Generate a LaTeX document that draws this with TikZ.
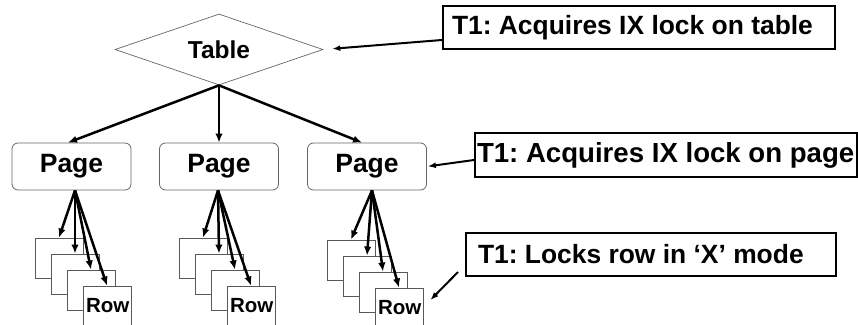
\documentclass[tikz,border=0pt]{standalone}
\usepackage{fontspec}
\setmainfont{Liberation Sans}
\usetikzlibrary{shapes.geometric,arrows.meta}
\frenchspacing
\begin{document}
\begin{tikzpicture}[x=1pt,y=-1pt,
  big/.style={font=\bfseries\fontsize{26.4}{30}\selectfont},
  diam/.style={diamond, draw=gray!80!black, line width=0.7pt, minimum width=208pt, minimum height=71pt, inner sep=0pt, aspect=2.93, font=\bfseries\fontsize{24.5}{28}\selectfont},
  pagebox/.style={font=\bfseries\fontsize{26.5}{30}\selectfont, draw=gray!80!black, line width=0.8pt, rounded corners=6pt, minimum width=119pt, minimum height=47pt, inner sep=0pt},
  rowbox/.style={draw=gray!70!black, line width=0.9pt, fill=white, minimum width=48pt, minimum height=40pt, inner xsep=3pt, inner ysep=0pt, font=\bfseries\fontsize{20.5}{24}\selectfont},
  note/.style={big, draw=black, line width=2pt, inner ysep=0pt},
  tree/.style={line width=2.5pt, -{Latex[length=9pt,width=7.5pt]}},
  ann/.style={line width=2pt, -{Latex[length=8pt,width=6pt]}}
]
\useasboundingbox (0,0) rectangle (858,324);

% table
\node[diam] (t) at (219,49.5) {Table};

% pages
\node[pagebox] (p1) at (71.5,166.5) {Page};
\node[pagebox] (p2) at (219,166.5) {Page};
\node[pagebox] (p3) at (367,166.5) {Page};

% rows stack 1
\node[rowbox] (r1a) at (59,258) {};
\node[rowbox] (r1b) at (75,274) {};
\node[rowbox] (r1c) at (91,290) {};
\node[rowbox] (r1d) at (107,306) {\makebox[42pt][l]{\raisebox{-2pt}{Row}}};
% rows stack 2
\node[rowbox] (r2a) at (203,258) {};
\node[rowbox] (r2b) at (219,274) {};
\node[rowbox] (r2c) at (235,290) {};
\node[rowbox] (r2d) at (251,306) {\makebox[42pt][l]{\raisebox{-2pt}{Row}}};
% rows stack 3
\node[rowbox] (r3a) at (351,260) {};
\node[rowbox] (r3b) at (367,276) {};
\node[rowbox] (r3c) at (383,292) {};
\node[rowbox] (r3d) at (399,308) {\makebox[42pt][l]{\raisebox{-2pt}{Row}}};

% notes
\node[note, minimum height=43pt, inner xsep=9pt] (b1) at (639,27.5) {\makebox[374pt][l]{T1: Acquires IX lock on table}};
\node[note, minimum height=44pt, inner xsep=2pt, font=\bfseries\fontsize{27.6}{31}\selectfont] (b2) at (666,155) {\makebox[378pt][l]{T1: Acquires IX lock on page}};
\node[note, minimum height=43pt, inner xsep=12pt] (b3) at (651,254.5) {\makebox[346pt][l]{T1: Locks row in ‘X’ mode}};

% tree arrows
\draw[tree] (t.south) -- ([xshift=-3.5pt]p1.north);
\draw[tree] (t.south) -- (p2.north);
\draw[tree] (t.south) -- ([xshift=-5pt]p3.north);

% page to rows
\foreach \r in {a,b,c,d}{
  \draw[tree] ([xshift=3.5pt]p1.south) -- (r1\r.north);
  \draw[tree] ([xshift=-1pt]p2.south) -- (r2\r.north);
  \draw[tree] ([xshift=5pt]p3.south) -- (r3\r.north);
}

% annotation arrows
\draw[ann, shorten >=9pt] ([yshift=-12.5pt]b1.west) -- (t.east);
\draw[ann, shorten >=1pt] ([yshift=-5pt]b2.west) -- (p3.east);
\draw[ann] ([xshift=-7pt,yshift=5pt]b3.south west) -- ([xshift=7pt,yshift=8pt]r3d.east);
\end{tikzpicture}
\end{document}
